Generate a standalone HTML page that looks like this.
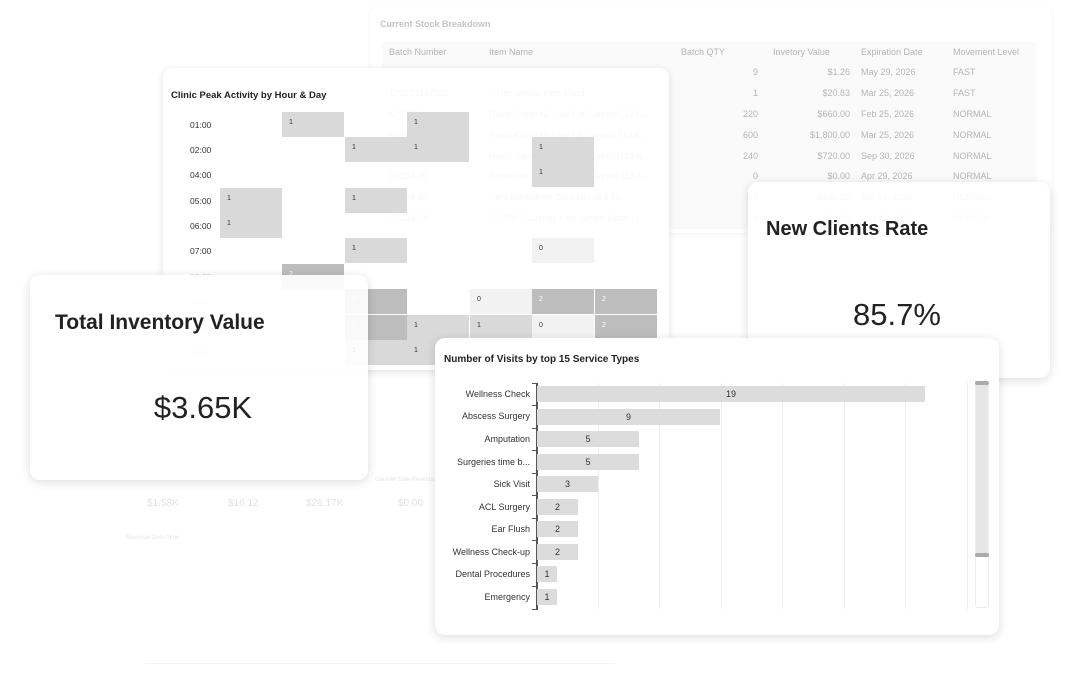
<!DOCTYPE html>
<html><head><meta charset="utf-8"><style>
*{margin:0;padding:0;box-sizing:border-box}
body{width:1080px;height:685px;background:#fff;position:relative;overflow:hidden;font-family:"Liberation Sans","DejaVu Sans",sans-serif}
.a{position:absolute}
.card{position:absolute;border-radius:10px;box-shadow:0 2px 8px rgba(0,0,0,0.12)}
.t{position:absolute;font-size:9px;color:#b5b5b5;white-space:nowrap}
.r{text-align:right}
.cell{position:absolute;font-size:7px;color:#333;padding:7px 0 0 7px}
.hl{position:absolute;left:190px;font-size:8.5px;color:#333}
.lab{position:absolute;font-size:9px;color:#333;text-align:right;width:95px;white-space:nowrap}
.bar{position:absolute;height:16px;background:#dcdcdc;font-size:9px;color:#333;text-align:center;line-height:16px}
</style></head><body>

<!-- faint background content -->
<div class="t" style="left:147px;top:498px;color:#e2e2e2;font-size:10px">$1.58K</div>
<div class="t" style="left:228px;top:498px;color:#e2e2e2;font-size:10px">$16.12</div>
<div class="t" style="left:306px;top:498px;color:#e2e2e2;font-size:10px">$26.17K</div>
<div class="t" style="left:398px;top:498px;color:#e2e2e2;font-size:10px">$0.00</div>
<div class="t" style="left:375px;top:477px;color:#e4e4e4;font-size:6px">Counter Sale Revenue</div>
<div class="t" style="left:126px;top:535px;color:#e6e6e6;font-size:6px">Revenue Over Time</div>
<div class="a" style="left:145px;top:663px;width:470px;height:1px;background:#f3f3f3"></div>

<!-- Stock table card -->
<div class="card" style="left:370px;top:5px;width:682px;height:228px;background:#fff;box-shadow:0 1px 5px rgba(0,0,0,0.05)"></div>
<div class="t" style="left:380px;top:19px;font-weight:bold;color:#c4c4c4">Current Stock Breakdown</div>
<div class="a" style="left:382px;top:42px;width:655px;height:187px;background:#fafafa"></div>
<div class="t" style="left:389px;top:47px">Batch Number</div>
<div class="t" style="left:489px;top:47px">Item Name</div>
<div class="t" style="left:681px;top:47px">Batch QTY</div>
<div class="t" style="left:773px;top:47px">Invetory Value</div>
<div class="t" style="left:861px;top:47px">Expiration Date</div>
<div class="t" style="left:953px;top:47px">Movement Level</div>

<div class="t r" style="left:700px;top:67px;width:58px">9</div><div class="t r" style="left:765px;top:67px;width:85px">$1.26</div><div class="t" style="left:861px;top:67px">May 29, 2026</div><div class="t" style="left:953px;top:67px">FAST</div>
<div class="t" style="left:389px;top:88px">175173157351</div><div class="t" style="left:489px;top:88px">12 lbs Vegan Pets Food</div><div class="t r" style="left:700px;top:88px;width:58px">1</div><div class="t r" style="left:765px;top:88px;width:85px">$20.83</div><div class="t" style="left:861px;top:88px">Mar 25, 2026</div><div class="t" style="left:953px;top:88px">FAST</div>
<div class="t" style="left:389px;top:109px">6291736</div><div class="t" style="left:489px;top:109px">Royal Canin GI Low Fat Canned (13.6...</div><div class="t r" style="left:700px;top:109px;width:58px">220</div><div class="t r" style="left:765px;top:109px;width:85px">$660.00</div><div class="t" style="left:861px;top:109px">Feb 25, 2026</div><div class="t" style="left:953px;top:109px">NORMAL</div>
<div class="t" style="left:389px;top:130px">6291797</div><div class="t" style="left:489px;top:130px">Royal Canin GI Low Oil Canned (13.6...</div><div class="t r" style="left:700px;top:130px;width:58px">600</div><div class="t r" style="left:765px;top:130px;width:85px">$1,800.00</div><div class="t" style="left:861px;top:130px">Mar 25, 2026</div><div class="t" style="left:953px;top:130px">NORMAL</div>
<div class="t" style="left:389px;top:151px">6291798</div><div class="t" style="left:489px;top:151px">Royal Canin GI Low Fat Canned (13.6...</div><div class="t r" style="left:700px;top:151px;width:58px">240</div><div class="t r" style="left:765px;top:151px;width:85px">$720.00</div><div class="t" style="left:861px;top:151px">Sep 30, 2026</div><div class="t" style="left:953px;top:151px">NORMAL</div>
<div class="t" style="left:389px;top:171px">F1234-09</div><div class="t" style="left:489px;top:171px">Royal Canin GI Low Fat Canned (13.6...</div><div class="t r" style="left:700px;top:171px;width:58px">0</div><div class="t r" style="left:765px;top:171px;width:85px">$0.00</div><div class="t" style="left:861px;top:171px">Apr 29, 2026</div><div class="t" style="left:953px;top:171px">NORMAL</div>
<div class="t" style="left:389px;top:192px">F1234-35</div><div class="t" style="left:489px;top:192px">Hill's k/d Kidney Care Dry (8.5 lb)</div><div class="t r" style="left:700px;top:192px;width:58px">45</div><div class="t r" style="left:765px;top:192px;width:85px">$449.85</div><div class="t" style="left:861px;top:192px">Apr 15, 2026</div><div class="t" style="left:953px;top:192px">NORMAL</div>
<div class="t" style="left:389px;top:213px">V1234-25</div><div class="t" style="left:489px;top:213px">DA2PP (Canine) 1 mL Single Dose -1...</div><div class="t r" style="left:700px;top:213px;width:58px">0</div><div class="t r" style="left:765px;top:213px;width:85px">$0.00</div><div class="t" style="left:861px;top:213px">Jun 30, 2026</div><div class="t" style="left:953px;top:213px">NORMAL</div>

<!-- Heatmap card -->
<div class="card" style="left:163px;top:68px;width:506px;height:302px;background:rgba(255,255,255,0.9)"></div>
<div class="a" style="left:171px;top:90px;font-size:9.5px;font-weight:bold;color:#222">Clinic Peak Activity by Hour &amp; Day</div>
<div class="hl" style="top:120px">01:00</div>
<div class="hl" style="top:145px">02:00</div>
<div class="hl" style="top:170px">04:00</div>
<div class="hl" style="top:196px">05:00</div>
<div class="hl" style="top:221px">06:00</div>
<div class="hl" style="top:246px">07:00</div>
<div class="hl" style="top:272px;color:#ccc">08:00</div>
<div class="hl" style="top:297px;color:#ccc">09:00</div>
<div class="hl" style="top:323px;color:#ccc">10:00</div>
<div class="hl" style="top:348px;color:#ccc">11:00</div>
<div class="cell" style="left:282px;top:112px;width:62px;height:25px;background:#d9d9d9">1</div>
<div class="cell" style="left:407px;top:112px;width:62px;height:25px;background:#d9d9d9">1</div>
<div class="cell" style="left:345px;top:137px;width:62px;height:25px;background:#d9d9d9">1</div>
<div class="cell" style="left:407px;top:137px;width:62px;height:25px;background:#d9d9d9">1</div>
<div class="cell" style="left:532px;top:137px;width:62px;height:25px;background:#d9d9d9">1</div>
<div class="cell" style="left:532px;top:162px;width:62px;height:25px;background:#d9d9d9">1</div>
<div class="cell" style="left:220px;top:188px;width:62px;height:25px;background:#d9d9d9">1</div>
<div class="cell" style="left:345px;top:188px;width:62px;height:25px;background:#d9d9d9">1</div>
<div class="cell" style="left:220px;top:213px;width:62px;height:25px;background:#d9d9d9">1</div>
<div class="cell" style="left:345px;top:238px;width:62px;height:25px;background:#d9d9d9">1</div>
<div class="cell" style="left:532px;top:238px;width:62px;height:25px;background:#f2f2f2">0</div>
<div class="cell" style="left:282px;top:264px;width:62px;height:25px;background:#bdbdbd;color:#fff">2</div>
<div class="cell" style="left:345px;top:289px;width:62px;height:25px;background:#bdbdbd;color:#fff">2</div>
<div class="cell" style="left:470px;top:289px;width:62px;height:25px;background:#f2f2f2">0</div>
<div class="cell" style="left:532px;top:289px;width:62px;height:25px;background:#bdbdbd;color:#fff">2</div>
<div class="cell" style="left:595px;top:289px;width:62px;height:25px;background:#bdbdbd;color:#fff">2</div>
<div class="cell" style="left:345px;top:315px;width:62px;height:25px;background:#bdbdbd;color:#fff">2</div>
<div class="cell" style="left:407px;top:315px;width:62px;height:25px;background:#d9d9d9">1</div>
<div class="cell" style="left:470px;top:315px;width:62px;height:25px;background:#d9d9d9">1</div>
<div class="cell" style="left:532px;top:315px;width:62px;height:25px;background:#f2f2f2">0</div>
<div class="cell" style="left:595px;top:315px;width:62px;height:25px;background:#bdbdbd;color:#fff">2</div>
<div class="cell" style="left:345px;top:340px;width:62px;height:25px;background:#d9d9d9">1</div>
<div class="cell" style="left:407px;top:340px;width:62px;height:25px;background:#d9d9d9">1</div>

<!-- Total Inventory card -->
<div class="card" style="left:30px;top:275px;width:338px;height:205px;background:rgba(255,255,255,0.9);box-shadow:0 2px 10px rgba(0,0,0,0.14)"></div>
<div class="a" style="left:55px;top:311px;font-size:21px;font-weight:bold;color:#222">Total Inventory Value</div>
<div class="a" style="left:30px;top:390px;width:346px;text-align:center;font-size:31px;color:#222">$3.65K</div>

<!-- New Clients card -->
<div class="card" style="left:748px;top:182px;width:302px;height:196px;background:rgba(255,255,255,0.92);box-shadow:0 2px 10px rgba(0,0,0,0.14)"></div>
<div class="a" style="left:766px;top:218px;font-size:20px;font-weight:bold;color:#222">New Clients Rate</div>
<div class="a" style="left:748px;top:297px;width:298px;text-align:center;font-size:31px;color:#222">85.7%</div>

<!-- Bar chart card -->
<div class="card" style="left:435px;top:338px;width:564px;height:297px;background:#fff;box-shadow:0 2px 10px rgba(0,0,0,0.14)"></div>
<div class="a" style="left:444px;top:354px;font-size:10px;font-weight:bold;color:#222">Number of Visits by top 15 Service Types</div>
<div class="a" style="left:598px;top:383px;width:1px;height:226px;background:#eee"></div>
<div class="a" style="left:659px;top:383px;width:1px;height:226px;background:#eee"></div>
<div class="a" style="left:721px;top:383px;width:1px;height:226px;background:#eee"></div>
<div class="a" style="left:782px;top:383px;width:1px;height:226px;background:#eee"></div>
<div class="a" style="left:844px;top:383px;width:1px;height:226px;background:#eee"></div>
<div class="a" style="left:905px;top:383px;width:1px;height:226px;background:#eee"></div>
<div class="a" style="left:967px;top:383px;width:1px;height:226px;background:#eee"></div>
<div class="a" style="left:536px;top:383px;width:1.5px;height:227px;background:#555"></div>
<div class="lab" style="left:435px;top:389px">Wellness Check</div><div class="bar" style="left:537px;top:386px;width:388px">19</div>
<div class="lab" style="left:435px;top:411px">Abscess Surgery</div><div class="bar" style="left:537px;top:409px;width:183px">9</div>
<div class="lab" style="left:435px;top:434px">Amputation</div><div class="bar" style="left:537px;top:431px;width:102px">5</div>
<div class="lab" style="left:435px;top:457px">Surgeries time b...</div><div class="bar" style="left:537px;top:454px;width:102px">5</div>
<div class="lab" style="left:435px;top:479px">Sick Visit</div><div class="bar" style="left:537px;top:476px;width:61px">3</div>
<div class="lab" style="left:435px;top:502px">ACL Surgery</div><div class="bar" style="left:537px;top:499px;width:41px">2</div>
<div class="lab" style="left:435px;top:524px">Ear Flush</div><div class="bar" style="left:537px;top:521px;width:41px">2</div>
<div class="lab" style="left:435px;top:547px">Wellness Check-up</div><div class="bar" style="left:537px;top:544px;width:41px">2</div>
<div class="lab" style="left:435px;top:569px">Dental Procedures</div><div class="bar" style="left:537px;top:566px;width:20px">1</div>
<div class="lab" style="left:435px;top:592px">Emergency</div><div class="bar" style="left:537px;top:589px;width:20px">1</div>
<!-- ticks -->
<div class="a" style="left:532px;top:383px;width:5px;height:1px;background:#555"></div>
<div class="a" style="left:532px;top:405px;width:5px;height:1px;background:#555"></div>
<div class="a" style="left:532px;top:428px;width:5px;height:1px;background:#555"></div>
<div class="a" style="left:532px;top:450px;width:5px;height:1px;background:#555"></div>
<div class="a" style="left:532px;top:473px;width:5px;height:1px;background:#555"></div>
<div class="a" style="left:532px;top:495px;width:5px;height:1px;background:#555"></div>
<div class="a" style="left:532px;top:518px;width:5px;height:1px;background:#555"></div>
<div class="a" style="left:532px;top:540px;width:5px;height:1px;background:#555"></div>
<div class="a" style="left:532px;top:563px;width:5px;height:1px;background:#555"></div>
<div class="a" style="left:532px;top:586px;width:5px;height:1px;background:#555"></div>
<div class="a" style="left:532px;top:609px;width:5px;height:1px;background:#555"></div>
<!-- scrollbar -->
<div class="a" style="left:975px;top:382px;width:14px;height:226px;border:1px solid #eee;border-radius:3px"></div>
<div class="a" style="left:976px;top:383px;width:12px;height:172px;background:#e6e6e6;border-radius:3px"></div>
<div class="a" style="left:975px;top:381px;width:14px;height:4px;background:#aaa;border-radius:2px"></div>
<div class="a" style="left:975px;top:553px;width:14px;height:4px;background:#aaa;border-radius:2px"></div>
</body></html>
